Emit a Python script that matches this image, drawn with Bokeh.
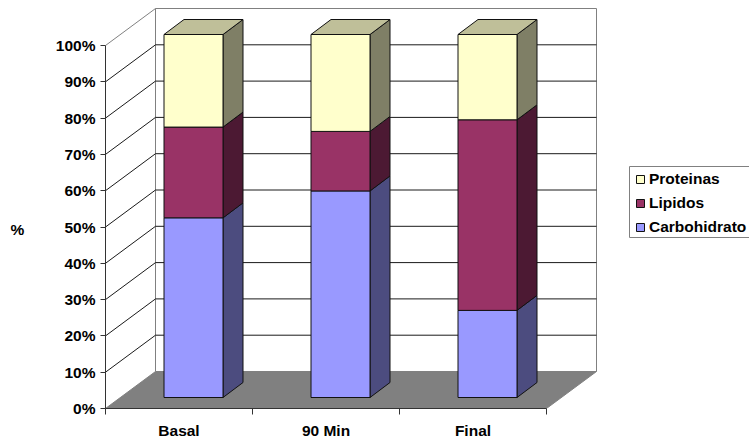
from bokeh.embed import file_html
from bokeh.resources import INLINE
from bokeh.plotting import figure
from bokeh.models import (BoxAnnotation, ColumnDataSource, FixedTicker, Label, Legend,
                          LegendItem, Range1d)

categories = ["Basal", "90 Min", "Final"]
carbohidratos = [49.5, 56.9, 24.0]
lipidos = [25.0, 16.4, 52.5]
proteinas = [25.5, 26.7, 23.5]
percent_ticks = [0, 10, 20, 30, 40, 50, 60, 70, 80, 90, 100]
percent_labels = [f"{t}%" for t in percent_ticks]

FONT = "Liberation Sans"
FONT_SIZE = "15.5px"

# Scale of the drawing: pixels per category and per percentage point.
PX_CAT = 147.0
PX_PCT = 3.63
W, H = 749, 438
FRAME_L, FRAME_H = 105, 408


def dx(px):
    return px / PX_CAT


def dy(px):
    return px / PX_PCT


# Oblique depth of the chart box and of each bar.
wall_dx, wall_dy = dx(50), dy(37)
bar_dx, bar_dy = dx(20), dy(15)
bar_off_x, bar_off_y = dx(15), dy(11)
bar_w = 59 / PX_CAT

p = figure(width=W, height=H, output_backend="svg", toolbar_location=None,
           min_border_left=FRAME_L, min_border_right=0, min_border_top=0,
           min_border_bottom=H - FRAME_H,
           frame_width=W - FRAME_L, frame_height=FRAME_H,
           x_range=Range1d(0, (W - FRAME_L) / PX_CAT),
           y_range=Range1d(0, FRAME_H / PX_PCT),
           background_fill_color="white", border_fill_color="white")
p.outline_line_color = None
p.grid.visible = False

n = len(categories)
top = 100.0

# Floor and the two walls of the chart box.
p.patch([0, n, n + wall_dx, wall_dx], [0, 0, wall_dy, wall_dy],
        fill_color="#808080", line_color="#808080", line_width=1)
p.line([wall_dx, wall_dx, n + wall_dx, n + wall_dx],
       [wall_dy, top + wall_dy, top + wall_dy, wall_dy],
       line_color="#808080", line_width=1)
p.line([0, wall_dx], [top, top + wall_dy], line_color="#808080", line_width=1)

# Gridlines run across the back wall and down the left wall.
grid_ticks = [t for t in percent_ticks if 0 < t < 100]
p.multi_line([[0, wall_dx, n + wall_dx] for _ in grid_ticks],
             [[t, t + wall_dy, t + wall_dy] for t in grid_ticks],
             line_color="#1a1a1a", line_width=1)


def darken(hex_color, factor):
    rgb = [int(hex_color[i:i + 2], 16) for i in (1, 3, 5)]
    return "#" + "".join(f"{int(c * factor):02x}" for c in rgb)


series = [("Carbohidrato", carbohidratos, "#9999FF"),
          ("Lipidos", lipidos, "#993366"),
          ("Proteinas", proteinas, "#FFFFCC")]

legend_map = {}
base = [0.0] * n
for name, vals, color in series:
    fx, fy, sx, sy = [], [], [], []
    for i, v in enumerate(vals):
        x0 = i + 0.5 - bar_w / 2 + bar_off_x - dx(0.5)
        x1 = x0 + bar_w
        y0 = base[i] + bar_off_y
        y1 = y0 + v
        fx.append([x0, x1, x1, x0])
        fy.append([y0, y0, y1, y1])
        sx.append([x1, x1 + bar_dx, x1 + bar_dx, x1])
        sy.append([y0, y0 + bar_dy, y1 + bar_dy, y1])
    p.patches(xs=sx, ys=sy, fill_color=darken(color, 0.5), line_color="#111111", line_width=1)
    legend_map[name] = p.patches(
        source=ColumnDataSource(dict(xs=fx, ys=fy)), xs="xs", ys="ys",
        fill_color=color, line_color="#111111", line_width=1)
    base = [b + v for b, v in zip(base, vals)]

# Cap of each stack.
cx, cy = [], []
for i, b in enumerate(base):
    x0 = i + 0.5 - bar_w / 2 + bar_off_x - dx(0.5)
    x1 = x0 + bar_w
    y = b + bar_off_y
    cx.append([x0, x1, x1 + bar_dx, x0 + bar_dx])
    cy.append([y, y, y + bar_dy, y + bar_dy])
p.patches(xs=cx, ys=cy, fill_color="#BFBF99", line_color="#111111", line_width=1)

# Value axis.
ya = p.yaxis[0]
ya.ticker = FixedTicker(ticks=percent_ticks)
ya.bounds = (0, 100)
ya.major_label_overrides = dict(zip(percent_ticks, percent_labels))
ya.major_tick_in = 0
ya.major_tick_out = 5
ya.minor_tick_line_color = None
ya.axis_line_color = "#333333"
ya.major_tick_line_color = "#333333"
ya.major_label_text_font = FONT
ya.major_label_text_font_style = "bold"
ya.major_label_text_font_size = FONT_SIZE
ya.major_label_text_color = "black"
ya.major_label_standoff = 5

# Category axis: labels sit mid-category, tick marks between categories.
xa = p.xaxis[0]
xa.ticker = FixedTicker(ticks=[0.5 + i for i in range(n)], minor_ticks=list(range(n + 1)))
xa.bounds = (0, n)
xa.major_label_overrides = {0.5 + i: c for i, c in enumerate(categories)}
xa.major_tick_in = 0
xa.major_tick_out = 0
xa.minor_tick_in = 0
xa.minor_tick_out = 6
xa.axis_line_color = "#333333"
xa.minor_tick_line_color = "#333333"
xa.major_label_text_font = FONT
xa.major_label_text_font_style = "bold"
xa.major_label_text_font_size = FONT_SIZE
xa.major_label_text_color = "black"
xa.major_label_standoff = 7

# Unit caption beside the value axis.
p.add_layout(Label(x=-21, y=FRAME_H - 229, x_units="screen", y_units="screen", text="%",
                   text_font=FONT, text_font_style="bold", text_font_size=FONT_SIZE,
                   text_align="center", text_baseline="middle", text_color="black"), "left")

# Legend frame, running off the right edge of the page.
p.add_layout(BoxAnnotation(left=524, right=660, bottom=FRAME_H - 237, top=FRAME_H - 166,
                           left_units="screen", right_units="screen",
                           bottom_units="screen", top_units="screen",
                           fill_color="white", fill_alpha=1.0,
                           line_color="#808080", line_width=1, line_alpha=1.0))

legend = Legend(
    items=[LegendItem(label=name, renderers=[legend_map[name]])
           for name in ("Proteinas", "Lipidos", "Carbohidrato")],
    location=(530, 172), orientation="vertical",
    glyph_width=10, glyph_height=10, label_standoff=4,
    label_text_font=FONT, label_text_font_style="bold", label_text_font_size=FONT_SIZE,
    label_text_color="black", label_height=16, spacing=6,
    padding=6, margin=0, border_line_color=None, background_fill_alpha=0.0)
p.add_layout(legend, "center")

open("out.html", "w").write(file_html(p, INLINE))
